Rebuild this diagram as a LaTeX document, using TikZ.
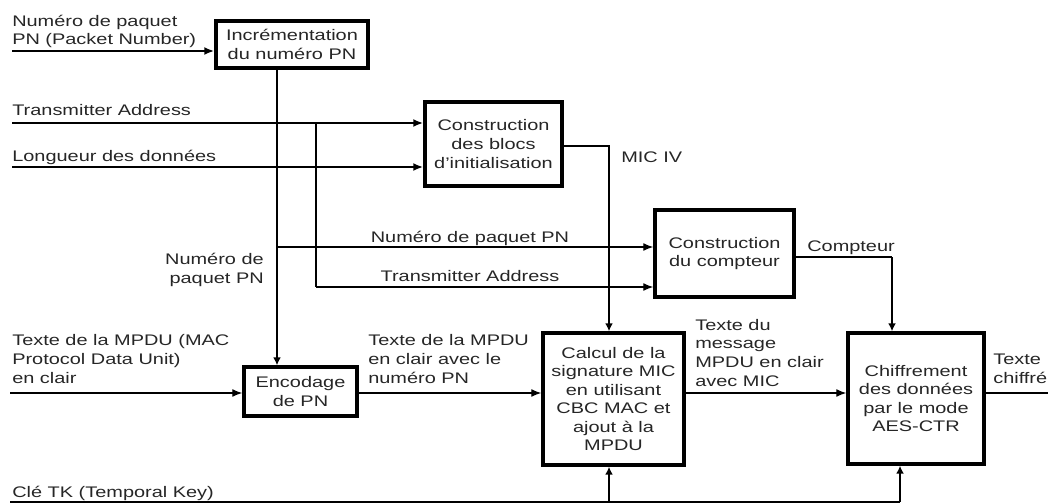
\documentclass[tikz,border=0pt]{standalone}
\usepackage{fontspec}
\setmainfont{Liberation Sans}[FakeStretch=1.3]
\usetikzlibrary{arrows.meta,shadows}
\definecolor{ink}{HTML}{262626}

\begin{document}
\begin{tikzpicture}[
  x=0.75pt, y=-0.75pt,
  every node/.style={font=\fontsize{11.5}{13.9}\selectfont, text=ink},
  box/.style={draw=black, line width=2.6pt, fill=white, align=center, inner sep=0pt,
              drop shadow={opacity=0.12, shadow xshift=1.2pt, shadow yshift=-1.2pt}},
  wh/.style 2 args={minimum width=#1, minimum height=#2},
  lbl/.style={inner sep=0pt, align=left},
  conn/.style={line width=1.6pt, draw=black},
  thinconn/.style={line width=1pt, draw=black},
  harrow/.style={-{Latex[length=7.5pt,width=6pt]}},
  varrow/.style={-{Latex[length=6pt,width=6pt]}}
]
\useasboundingbox (0,0) rectangle (1048,503);

% processing blocks
\node[box, wh={114pt}{35.25pt}]   (inc)   at (292,44.5)   {Incrémentation\\du numéro PN};
\node[box, wh={102.75pt}{63pt}]   (blocs) at (493.5,144)  {Construction\\des blocs\\d'initialisation};
\node[box, wh={104.25pt}{65.25pt}] (cpt)  at (724.5,253.5) {Construction\\du compteur};
\node[box, wh={84.75pt}{36.75pt}] (enc)   at (300.5,391.5) {Encodage\\de PN};
\node[box, wh={105.75pt}{99pt}]   (calc)  at (613.5,399)  {Calcul de la\\signature MIC\\en utilisant\\CBC MAC et\\ajout à la\\MPDU};
\node[box, wh={102pt}{98.25pt}]   (chif)  at (916,398.5)  {Chiffrement\\des données\\par le mode\\AES-CTR};

% free ends and bends of the connectors
\coordinate (pnIn)   at (12,51);
\coordinate (taIn)   at (12,123);
\coordinate (lenIn)  at (12,167);
\coordinate (pnX)    at (277,0);
\coordinate (taTap)  at (316,123);
\coordinate (taBend) at (316,287);
\coordinate (pnTap)  at (277,247);
\coordinate (micX)   at (609,146);
\coordinate (ctrX)   at (892,257);
\coordinate (mpduIn) at (10,393);
\coordinate (mpduOut) at (1048,393);
\coordinate (tkIn)   at (10,502);
\coordinate (tkEnd)  at (900,502);

% inputs
\draw[conn, harrow] (pnIn) -- (pnIn -| inc.west);
\draw[conn, harrow] (taIn) -- (taIn -| blocs.west);
\draw[conn, harrow] (lenIn) -- (lenIn -| blocs.west);

% packet number and transmitter address distribution
\draw[conn, varrow] (inc.south -| pnX) -- (enc.north -| pnX);
\draw[thinconn, harrow] (pnTap) -- (pnTap -| cpt.west);
\draw[conn] (taTap) -- (taBend);
\draw[thinconn, harrow] (taBend) -- (taBend -| cpt.west);

% MIC IV and counter
\draw[conn, varrow] (blocs.east |- micX) -- (micX) -- (micX |- calc.north);
\draw[thinconn] (cpt.east |- ctrX) -- (ctrX);
\draw[conn, varrow] (ctrX) -- (ctrX |- chif.north);

% data path
\draw[thinconn, harrow] (mpduIn) -- (mpduIn -| enc.west);
\draw[thinconn, harrow] (enc.east |- mpduIn) -- (calc.west |- mpduIn);
\draw[thinconn, harrow] (calc.east |- mpduIn) -- (chif.west |- mpduIn);
\draw[thinconn] (chif.east |- mpduIn) -- (mpduOut);

% temporal key
\draw[thinconn] (tkIn) -- (tkEnd);
\draw[conn, varrow] (tkEnd) -- (tkEnd |- chif.south);
\draw[conn, varrow] (tkEnd -| micX) -- (micX |- calc.south);

% labels
\node[lbl, anchor=base west] (lPN)   at (12,45)  {Numéro de paquet\\PN (Packet Number)};
\node[lbl, anchor=base west] (lTA)   at (12,115) {Transmitter Address};
\node[lbl, anchor=base west] (lLen)  at (12,161) {Longueur des données};
\node[lbl, anchor=base west] (lMIC)  at (621,162) {MIC IV};
\node[lbl, anchor=base]      (lPN2)  at (470,242) {Numéro de paquet PN};
\node[lbl, anchor=base]      (lTA2)  at (470,281) {Transmitter Address};
\node[lbl, anchor=base east, align=right] (lPN3) at (264,283) {Numéro de\\paquet PN};
\node[lbl, anchor=base west] (lCtr)  at (807,251) {Compteur};
\node[lbl, anchor=base west] (lMpdu) at (12,383) {Texte de la MPDU (MAC\\Protocol Data Unit)\\en clair};
\node[lbl, anchor=base west] (lMpdu2) at (368,383) {Texte de la MPDU\\en clair avec le\\numéro PN};
\node[lbl, anchor=base west] (lMpdu3) at (695,386) {Texte du\\message\\MPDU en clair\\avec MIC};
\node[lbl, anchor=base west] (lOut)  at (993,383) {Texte\\chiffré};
\node[lbl, anchor=base west] (lTK)   at (12,497) {Clé TK (Temporal Key)};
\end{tikzpicture}
\end{document}
